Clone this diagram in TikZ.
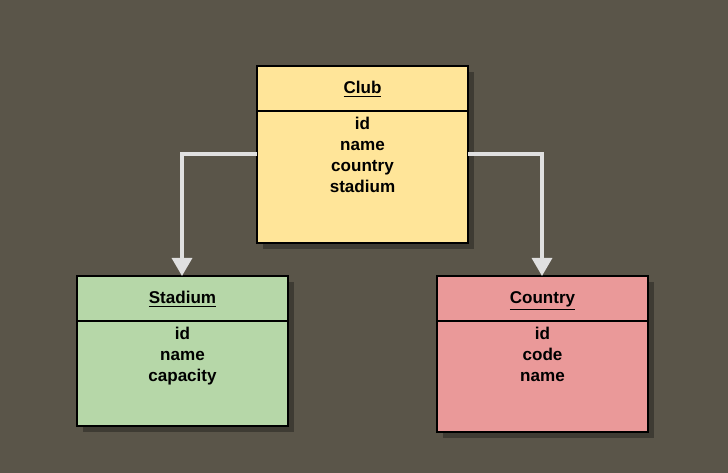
\documentclass[tikz,border=0pt]{standalone}
\usepackage{fontspec}
\setmainfont{Liberation Sans}
\usetikzlibrary{arrows.meta}
\definecolor{bg}{HTML}{5A5549}
\definecolor{shadowc}{HTML}{3E3B33}
\definecolor{clubc}{HTML}{FFE599}
\definecolor{stadc}{HTML}{B6D7A8}
\definecolor{countc}{HTML}{EA9999}
\definecolor{arrc}{HTML}{E0E0E0}
\begin{document}
\begin{tikzpicture}[x=0.75pt,y=-0.75pt,
  boxline/.style={draw=black,line width=2.2pt},
  shad/.style={fill=shadowc,draw=none},
  lbl/.style={font=\fontsize{12.8}{15.75}\selectfont\bfseries,align=center,inner sep=0pt,anchor=north},
  hdr/.style={font=\fontsize{12.8}{15}\selectfont\bfseries,inner sep=0pt,anchor=base},
  conn/.style={draw=arrc,line width=2.4pt,-{Triangle[length=13.5pt,width=15pt]}}]
\useasboundingbox[fill=bg] (0,0) rectangle (728,473);
% shadows
\fill[shad] (263,72) rectangle (474,249);
\fill[shad] (83,282) rectangle (294,432);
\fill[shad] (443,282) rectangle (654,438);
% Club
\draw[boxline,fill=clubc] (257,66) rectangle (468,243);
\draw[boxline] (257,111) -- (468,111);
\node[hdr] (clubh) at (362.5,94) {\underline{Club}};
\node[lbl] (clubb) at (362.5,117) {id\\name\\country\\stadium};
\coordinate (clubL) at (257,154);
\coordinate (clubR) at (468,154);
% Stadium
\draw[boxline,fill=stadc] (77,276) rectangle (288,426);
\draw[boxline] (77,321) -- (288,321);
\node[hdr] (stadh) at (182.5,304) {\underline{Stadium}};
\node[lbl] (stadb) at (182.5,327) {id\\name\\capacity};
\coordinate (stadT) at (182,276);
% Country
\draw[boxline,fill=countc] (437,276) rectangle (648,432);
\draw[boxline] (437,321) -- (648,321);
\node[hdr] (counth) at (542.5,304) {\underline{Country}};
\node[lbl] (countb) at (542.5,327) {id\\code\\name};
\coordinate (countT) at (542,276);
% connectors
\draw[conn] (clubL) -- (182,154) -- (stadT);
\draw[conn] (clubR) -- (542,154) -- (countT);
\end{tikzpicture}
\end{document}
